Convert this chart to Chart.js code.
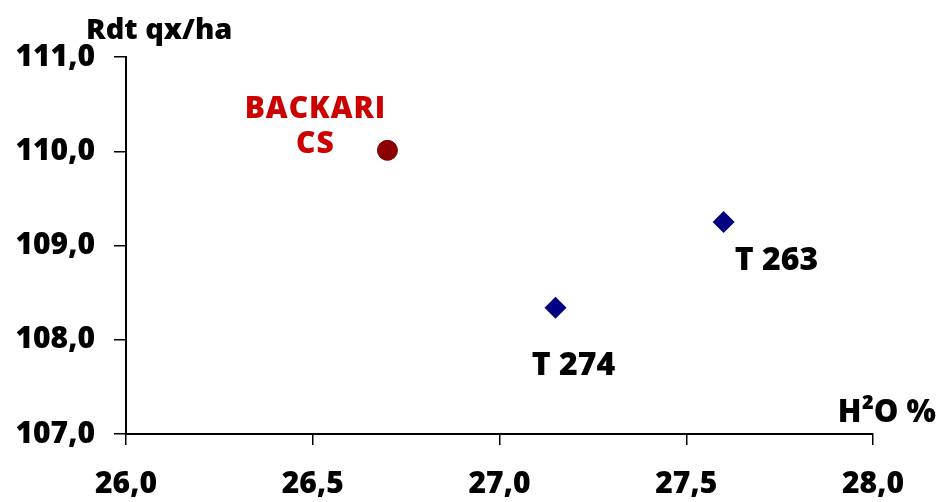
<!DOCTYPE html>
<html>
<head>
<meta charset="utf-8">
<script src="https://cdn.jsdelivr.net/npm/chart.js@4"></script>
<style>
html,body{margin:0;padding:0;background:#fff;overflow:hidden;}
#wrap{width:940px;height:502px;}
</style>
</head>
<body>
<div id="wrap"><canvas id="c" width="940" height="502"></canvas></div>
<script>
// ---- data ----
const backariX = [26.70];
const backariY = [110.01];
const backariLabels = [['BACKARI', 'CS']];
const hybridX = [27.15, 27.60];
const hybridY = [108.34, 109.25];
const hybridLabels = [['T 274'], ['T 263']];
const xTickValues = [26.0, 26.5, 27.0, 27.5, 28.0];
const xTickLabels = ['26,0', '26,5', '27,0', '27,5', '28,0'];
const yTickValues = [107, 108, 109, 110, 111];
const yTickLabels = ['107,0', '108,0', '109,0', '110,0', '111,0'];
const yTitle = 'Rdt qx/ha';
const xTitle = 'H²O %';

const FONT = '"Open Sans", Lato, sans-serif';
const W = 800;

function pts(xs, ys) { return xs.map((x, i) => ({ x: x, y: ys[i] })); }

const labelPlugin = {
  id: 'labelPlugin',
  afterDatasetsDraw(chart) {
    const ctx = chart.ctx;
    ctx.save();
    ctx.textAlign = 'center';
    ctx.textBaseline = 'middle';
    const m0 = chart.getDatasetMeta(0);
    m0.data.forEach((el, i) => {
      ctx.fillStyle = '#CC0000';
      ctx.font = W + ' 30px ' + FONT;
      ctx.letterSpacing = '1px';
      const lines = backariLabels[i];
      lines.forEach((t, k) => ctx.fillText(t, el.x - 72, el.y - 41 + k * 35));
      ctx.letterSpacing = '0px';
    });
    const m1 = chart.getDatasetMeta(1);
    m1.data.forEach((el, i) => {
      ctx.fillStyle = '#000';
      ctx.font = W + ' 32px ' + FONT;
      const t = hybridLabels[i][0];
      const dx = i === 0 ? 18 : 53;
      const dy = i === 0 ? 58 : 39;
      ctx.fillText(t, el.x + dx, el.y + dy);
    });
    ctx.fillStyle = '#000';
    ctx.font = W + ' 29px ' + FONT;
    ctx.textAlign = 'left';
    ctx.textBaseline = 'alphabetic';
    ctx.fillText(yTitle, 86, 39);
    ctx.font = W + ' 31px ' + FONT;
    ctx.textAlign = 'right';
    ctx.fillText(xTitle, 936, 422);
    ctx.restore();
  }
};

new Chart(document.getElementById('c'), {
  type: 'scatter',
  data: {
    datasets: [
      {
        label: 'BACKARI CS',
        data: pts(backariX, backariY),
        pointStyle: 'circle',
        pointRadius: 10,
        pointHoverRadius: 10,
        backgroundColor: '#8B0000',
        borderColor: '#7A0000',
        borderWidth: 1
      },
      {
        label: 'Hybrides',
        data: pts(hybridX, hybridY),
        pointStyle: 'rectRot',
        pointRadius: 11,
        pointHoverRadius: 11,
        backgroundColor: '#000080',
        borderColor: '#000080',
        borderWidth: 0
      }
    ]
  },
  options: {
    responsive: false,
    animation: false,
    events: [],
    layout: { padding: { left: 0, top: 57, right: 67, bottom: 0 } },
    plugins: { legend: { display: false }, tooltip: { enabled: false } },
    scales: {
      x: {
        type: 'linear',
        min: 26, max: 28,
        afterBuildTicks(scale) { scale.ticks = xTickValues.map(v => ({ value: v })); },
        afterFit(scale) { scale.height = 68; },
        ticks: {
          padding: 21,
          color: '#000',
          font: { family: FONT, size: 30, weight: W },
          maxRotation: 0,
          callback(v) { const i = xTickValues.indexOf(v); return i >= 0 ? xTickLabels[i] : ''; }
        },
        grid: { display: true, drawOnChartArea: false, drawTicks: true, tickLength: 11, color: '#000', lineWidth: 1.5 },
        border: { display: true, color: '#000', width: 2 }
      },
      y: {
        type: 'linear',
        min: 107, max: 111,
        afterBuildTicks(scale) { scale.ticks = yTickValues.map(v => ({ value: v })); },
        afterFit(scale) { scale.width = 126; },
        ticks: {
          padding: 19,
          color: '#000',
          font: { family: FONT, size: 30, weight: W },
          callback(v) { const i = yTickValues.indexOf(v); return i >= 0 ? yTickLabels[i] : ''; }
        },
        grid: { display: true, drawOnChartArea: false, drawTicks: true, tickLength: 12, color: '#000', lineWidth: 1.5 },
        border: { display: true, color: '#000', width: 2 }
      }
    }
  },
  plugins: [labelPlugin]
});
</script>
</body>
</html>
